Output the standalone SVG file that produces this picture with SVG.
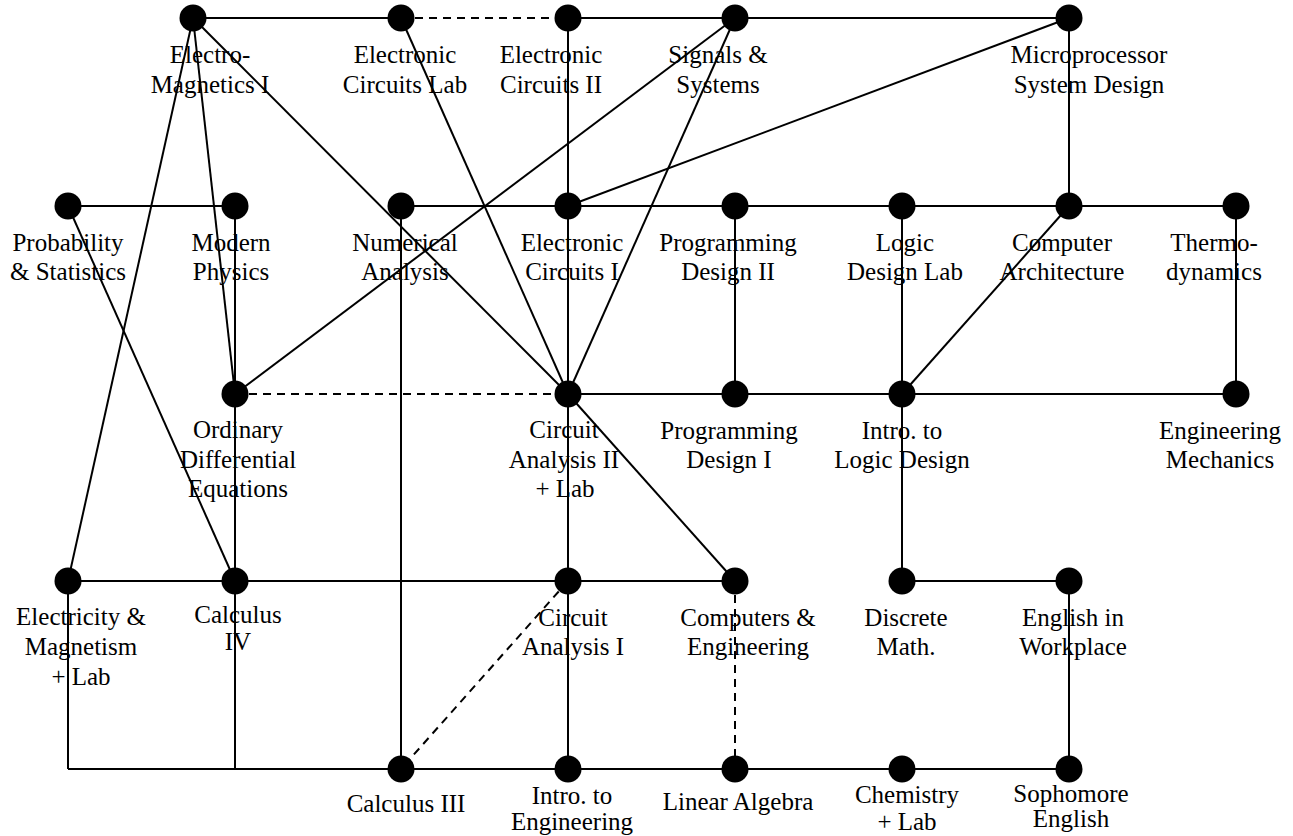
<svg xmlns="http://www.w3.org/2000/svg" width="1293" height="836" viewBox="0 0 1293 836">
<style>
.e{stroke:#000;stroke-width:2;fill:none}
.d{stroke:#000;stroke-width:2;fill:none;stroke-dasharray:8 6}
.n circle{fill:#000}
.n text{font-family:"Liberation Serif","Times New Roman",serif;font-size:25px;fill:#000;text-anchor:middle}
</style>
<rect width="1293" height="836" fill="#fff"/>
<g id="connectors">
<line class="e" x1="193" y1="18" x2="401" y2="18"/>
<line class="d" x1="401" y1="18" x2="568" y2="18"/>
<line class="e" x1="568" y1="18" x2="1069" y2="18"/>
<line class="e" x1="193" y1="18" x2="68" y2="581"/>
<line class="e" x1="193" y1="18" x2="235" y2="394"/>
<line class="e" x1="193" y1="18" x2="568" y2="394"/>
<line class="e" x1="401" y1="18" x2="568" y2="394"/>
<line class="e" x1="568" y1="18" x2="568" y2="769"/>
<line class="e" x1="735" y1="18" x2="235" y2="394"/>
<line class="e" x1="735" y1="18" x2="568" y2="394"/>
<line class="e" x1="1069" y1="18" x2="568" y2="206"/>
<line class="e" x1="1069" y1="18" x2="1069" y2="206"/>
<line class="e" x1="68" y1="206" x2="235" y2="206"/>
<line class="e" x1="68" y1="206" x2="235" y2="581"/>
<line class="e" x1="235" y1="206" x2="235" y2="769"/>
<line class="e" x1="401" y1="206" x2="1236" y2="206"/>
<line class="e" x1="401" y1="206" x2="401" y2="769"/>
<line class="e" x1="735" y1="206" x2="735" y2="394"/>
<line class="e" x1="902" y1="206" x2="902" y2="581"/>
<line class="e" x1="1069" y1="206" x2="902" y2="394"/>
<line class="e" x1="1236" y1="206" x2="1236" y2="394"/>
<line class="d" x1="235" y1="394" x2="568" y2="394"/>
<line class="e" x1="568" y1="394" x2="1236" y2="394"/>
<line class="e" x1="568" y1="394" x2="735" y2="581"/>
<line class="e" x1="68" y1="581" x2="735" y2="581"/>
<line class="e" x1="902" y1="581" x2="1069" y2="581"/>
<line class="d" x1="568" y1="581" x2="401" y2="769"/>
<line class="d" x1="735" y1="581" x2="735" y2="769"/>
<line class="e" x1="1069" y1="581" x2="1069" y2="769"/>
<line class="e" x1="68" y1="581" x2="68" y2="769"/>
<line class="e" x1="68" y1="769" x2="1069" y2="769"/>
</g>
<g id="em1" class="n"><circle cx="193" cy="18" r="13.5"/><text x="210" y="63">Electro-</text><text x="210" y="93">Magnetics I</text></g>
<g id="eclab" class="n"><circle cx="401" cy="18" r="13.5"/><text x="405" y="63">Electronic</text><text x="405" y="93">Circuits Lab</text></g>
<g id="ec2" class="n"><circle cx="568" cy="18" r="13.5"/><text x="551" y="63">Electronic</text><text x="551" y="93">Circuits II</text></g>
<g id="sig" class="n"><circle cx="735" cy="18" r="13.5"/><text x="718" y="63">Signals &amp;</text><text x="718" y="93">Systems</text></g>
<g id="micro" class="n"><circle cx="1069" cy="18" r="13.5"/><text x="1089" y="63">Microprocessor</text><text x="1089" y="93">System Design</text></g>
<g id="prob" class="n"><circle cx="68" cy="206" r="13.5"/><text x="68" y="251">Probability</text><text x="68" y="280">&amp; Statistics</text></g>
<g id="modphys" class="n"><circle cx="235" cy="206" r="13.5"/><text x="231" y="251">Modern</text><text x="231" y="280">Physics</text></g>
<g id="numan" class="n"><circle cx="401" cy="206" r="13.5"/><text x="405" y="251">Numerical</text><text x="405" y="280">Analysis</text></g>
<g id="ec1" class="n"><circle cx="568" cy="206" r="13.5"/><text x="572" y="251">Electronic</text><text x="572" y="280">Circuits I</text></g>
<g id="pd2" class="n"><circle cx="735" cy="206" r="13.5"/><text x="728" y="251">Programming</text><text x="728" y="280">Design II</text></g>
<g id="ldlab" class="n"><circle cx="902" cy="206" r="13.5"/><text x="905" y="251">Logic</text><text x="905" y="280">Design Lab</text></g>
<g id="comparch" class="n"><circle cx="1069" cy="206" r="13.5"/><text x="1062" y="251">Computer</text><text x="1062" y="280">Architecture</text></g>
<g id="thermo" class="n"><circle cx="1236" cy="206" r="13.5"/><text x="1214" y="251">Thermo-</text><text x="1214" y="280">dynamics</text></g>
<g id="ode" class="n"><circle cx="235" cy="394" r="13.5"/><text x="238" y="438">Ordinary</text><text x="238" y="468">Differential</text><text x="238" y="497">Equations</text></g>
<g id="ca2" class="n"><circle cx="568" cy="394" r="13.5"/><text x="564" y="438">Circuit</text><text x="564" y="468">Analysis II</text><text x="565" y="497">+ Lab</text></g>
<g id="pd1" class="n"><circle cx="735" cy="394" r="13.5"/><text x="729" y="439">Programming</text><text x="729" y="468">Design I</text></g>
<g id="ild" class="n"><circle cx="902" cy="394" r="13.5"/><text x="902" y="439">Intro. to</text><text x="902" y="468">Logic Design</text></g>
<g id="engmech" class="n"><circle cx="1236" cy="394" r="13.5"/><text x="1220" y="439">Engineering</text><text x="1220" y="468">Mechanics</text></g>
<g id="eml" class="n"><circle cx="68" cy="581" r="13.5"/><text x="81" y="625">Electricity &amp;</text><text x="81" y="655">Magnetism</text><text x="81" y="685">+ Lab</text></g>
<g id="calc4" class="n"><circle cx="235" cy="581" r="13.5"/><text x="238" y="623">Calculus</text><text x="238" y="650">IV</text></g>
<g id="ca1" class="n"><circle cx="568" cy="581" r="13.5"/><text x="573" y="626">Circuit</text><text x="573" y="655">Analysis I</text></g>
<g id="compeng" class="n"><circle cx="735" cy="581" r="13.5"/><text x="748" y="626">Computers &amp;</text><text x="748" y="655">Engineering</text></g>
<g id="discrete" class="n"><circle cx="902" cy="581" r="13.5"/><text x="906" y="626">Discrete</text><text x="906" y="655">Math.</text></g>
<g id="engwork" class="n"><circle cx="1069" cy="581" r="13.5"/><text x="1073" y="626">English in</text><text x="1073" y="655">Workplace</text></g>
<g id="calc3" class="n"><circle cx="401" cy="769" r="13.5"/><text x="406" y="812">Calculus III</text></g>
<g id="introeng" class="n"><circle cx="568" cy="769" r="13.5"/><text x="572" y="804">Intro. to</text><text x="572" y="830">Engineering</text></g>
<g id="linalg" class="n"><circle cx="735" cy="769" r="13.5"/><text x="738" y="810">Linear Algebra</text></g>
<g id="chem" class="n"><circle cx="902" cy="769" r="13.5"/><text x="907" y="803">Chemistry</text><text x="907" y="830">+ Lab</text></g>
<g id="soph" class="n"><circle cx="1069" cy="769" r="13.5"/><text x="1071" y="802">Sophomore</text><text x="1071" y="827">English</text></g>
</svg>
